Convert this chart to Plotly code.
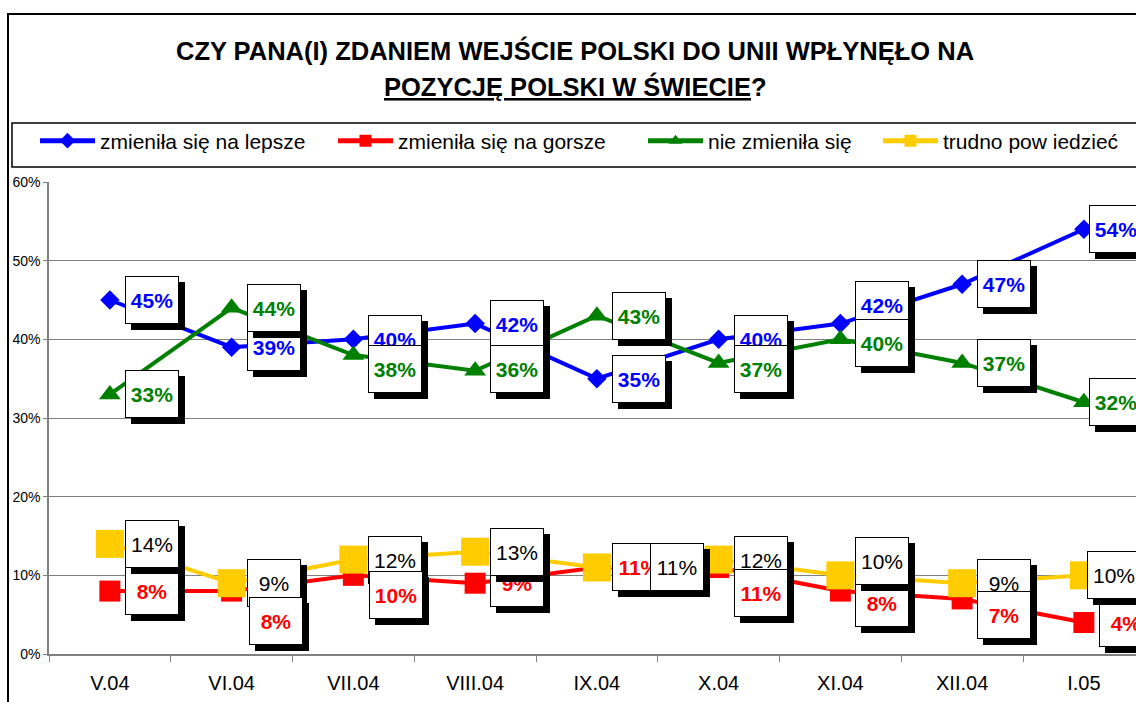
import plotly.graph_objects as go

# ---- data ----
categories = ["V.04", "VI.04", "VII.04", "VIII.04", "IX.04", "X.04", "XI.04", "XII.04", "I.05"]
lepsze = [45, 39, 40, 42, 35, 40, 42, 47, 54]
gorsze = [8, 8, 10, 9, 11, 11, 8, 7, 4]
bez_zmian = [33, 44, 38, 36, 43, 37, 40, 37, 32]
trudno = [14, 9, 12, 13, 11, 12, 10, 9, 10]

series_names = ["zmieniła się na lepsze", "zmieniła się na gorsze", "nie zmieniła się", "trudno pow iedzieć"]

# ---- styles ----
FONT = "Arial, Liberation Sans, sans-serif"
W, H = 1136, 702
ML, MR, MT, MB = 49, 0, 182, 48
PW = W - ML - MR
PH = H - MT - MB
CAT_PX = 121.75  # pixel width of one category

def px_x(px):
    return (px - ML) / PW

def px_y(py):
    return (H - MB - py) / PH

styles = {
    "lepsze": dict(color="#0000FF", symbol="diamond", size=15, legend="legend", lx=35),
    "gorsze": dict(color="#FF0000", symbol="square", size=21, legend="legend2", lx=333),
    "bez": dict(color="#008000", symbol="triangle-up", size=19, legend="legend3", lx=643),
    "trudno": dict(color="#FFCC00", symbol="square", size=28, legend="legend4", lx=878),
}

fig = go.Figure()
for name, key, vals in [
    (series_names[0], "lepsze", lepsze),
    (series_names[1], "gorsze", gorsze),
    (series_names[2], "bez", bez_zmian),
    (series_names[3], "trudno", trudno),
]:
    st = styles[key]
    fig.add_trace(go.Scatter(
        x=categories, y=vals, name=name, mode="lines+markers",
        line=dict(color=st["color"], width=4),
        marker=dict(color=st["color"], symbol=st["symbol"], size=st["size"]),
        cliponaxis=False, legend=st["legend"],
    ))

# label offsets (pixels): dx = distance from point to box left, dy = downward nudge
DX = 15
lab_cfg = {
    "lepsze": dict(dx=[DX] * 8 + [5], dy=[0, 0, 0, 0, 0, 0, -19, 0, 0], color="#0000FF", bold=True),
    "bez": dict(dx=[DX] * 8 + [5], dy=[0, 0, 14, -2, 0, 6, 4, 0, 0], color="#008000", bold=True),
    "gorsze": dict(dx=[DX, 17, 16, DX, DX, DX, DX, DX, DX], dy=[0, 30, 20, 0, 0, 26, 12, 16, 0], color="#FF0000", bold=True),
    "trudno": dict(dx=[DX, DX, DX, DX, 53, DX, DX, DX, 3], dy=[0, 0, 0, 0, 0, 0, -14, 0, 0], color="#000000", bold=False),
}
red_on_top = [False, True, True, False, False, True, False, True, False]

BW, BH = 52, 46
annotations = []

def add_label(key, i, v):
    cfg = lab_cfg[key]
    dx, dy = cfg["dx"][i], cfg["dy"][i]
    txt = f"{v}%"
    if cfg["bold"]:
        txt = f"<b>{txt}</b>"
    common = dict(x=categories[i], y=v, xref="x", yref="y", showarrow=False,
                  xanchor="left", yanchor="middle", width=BW, height=BH,
                  borderpad=0)
    annotations.append(dict(common, text="\u00a0", bgcolor="black", bordercolor="black",
                            borderwidth=1, xshift=dx + 6, yshift=-dy - 6))
    annotations.append(dict(common, text=txt, bgcolor="white", bordercolor="black",
                            borderwidth=1, xshift=dx, yshift=-dy,
                            font=dict(family=FONT, size=21, color=cfg["color"])))

for i, v in enumerate(lepsze):
    add_label("lepsze", i, v)
for i, v in enumerate(bez_zmian):
    add_label("bez", i, v)
for i in range(len(categories)):
    if red_on_top[i]:
        add_label("trudno", i, trudno[i])
        add_label("gorsze", i, gorsze[i])
    else:
        add_label("gorsze", i, gorsze[i])
        add_label("trudno", i, trudno[i])

# title
annotations.append(dict(
    x=px_x(575), y=px_y(50), xref="paper", yref="paper", showarrow=False,
    xanchor="center", yanchor="middle",
    text="<b>CZY PANA(I) ZDANIEM WEJŚCIE POLSKI DO UNII WPŁYNĘŁO NA</b>",
    font=dict(family=FONT, size=25.5, color="black")))
annotations.append(dict(
    x=px_x(575), y=px_y(86), xref="paper", yref="paper", showarrow=False,
    xanchor="center", yanchor="middle",
    text="<b><u>POZYCJĘ POLSKI W ŚWIECIE</u>?</b>",
    font=dict(family=FONT, size=25.5, color="black")))

shapes = [
    # outer chart frame
    dict(type="rect", xref="paper", yref="paper",
         x0=px_x(8), x1=px_x(1160), y0=px_y(720), y1=px_y(14),
         line=dict(color="#000000", width=2), fillcolor="rgba(0,0,0,0)", layer="below"),
    # legend frame
    dict(type="rect", xref="paper", yref="paper",
         x0=px_x(12), x1=px_x(1160), y0=px_y(167), y1=px_y(123),
         line=dict(color="#000000", width=1.5), fillcolor="rgba(0,0,0,0)", layer="below"),
]

def legend_cfg(lx):
    return dict(orientation="h", x=px_x(lx), y=px_y(141), xanchor="left", yanchor="middle",
                font=dict(family=FONT, size=21, color="black"),
                bgcolor="rgba(0,0,0,0)", itemsizing="constant", itemwidth=55)

n_visible = PW / CAT_PX
fig.update_layout(
    width=W, height=H,
    margin=dict(l=ML, r=MR, t=MT, b=MB, autoexpand=False),
    paper_bgcolor="white", plot_bgcolor="white",
    font=dict(family=FONT, color="black"),
    showlegend=True,
    legend=legend_cfg(styles["lepsze"]["lx"]),
    legend2=legend_cfg(styles["gorsze"]["lx"]),
    legend3=legend_cfg(styles["bez"]["lx"]),
    legend4=legend_cfg(styles["trudno"]["lx"]),
    xaxis=dict(type="category", range=[-0.5, -0.5 + n_visible],
               showgrid=False, showline=True, linecolor="#808080", linewidth=1.5,
               ticks="outside", tickson="boundaries", ticklen=6, tickcolor="#808080",
               tickfont=dict(family=FONT, size=20, color="black"),
               ticklabelstandoff=10),
    yaxis=dict(range=[0, 60], dtick=10, ticksuffix="%",
               showgrid=True, gridcolor="#808080", gridwidth=1,
               showline=True, linecolor="#808080", linewidth=1.5,
               ticks="outside", ticklen=4, tickcolor="#808080",
               tickfont=dict(family=FONT, size=14, color="black"),
               ticklabelstandoff=0,
               zeroline=False),
    annotations=annotations,
    shapes=shapes,
)

fig.write_html("out.html", config={"displayModeBar": False},
               post_script="document.body.style.margin='0';document.body.style.overflow='hidden';")
